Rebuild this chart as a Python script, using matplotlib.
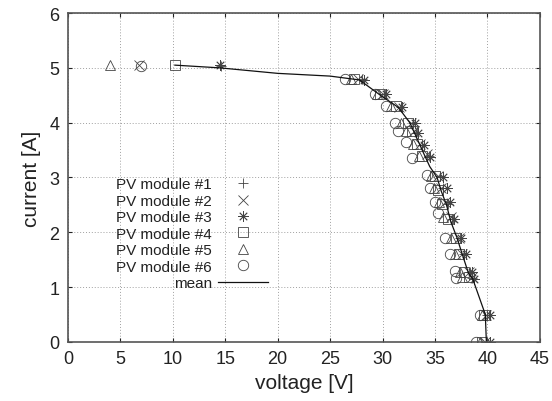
import numpy as np
import matplotlib.pyplot as plt

plt.rcParams['font.family'] = ['Liberation Sans', 'DejaVu Sans']

# ---------------------------------------------------------------
# I-V measurements read off the chart (voltage [V], current [A])
# ---------------------------------------------------------------
v1 = [14.6, 28.0, 30.1, 31.8, 32.9, 33.2, 33.8, 34.4, 35.5, 35.8, 36.2, 36.6, 37.4, 37.8, 38.3, 38.5, 40.0, 39.9]
i1 = [5.04, 4.79, 4.52, 4.28, 4.00, 3.82, 3.60, 3.40, 3.02, 2.80, 2.52, 2.25, 1.90, 1.60, 1.27, 1.16, 0.50, 0.00]

v2 = [6.8, 27.7, 30.0, 31.6, 32.7, 33.0, 33.6, 34.2, 35.3, 35.6, 36.0, 36.5, 37.3, 37.6, 38.2, 38.5, 39.9, 39.8]
i2 = [5.05, 4.80, 4.52, 4.28, 4.00, 3.85, 3.62, 3.42, 3.02, 2.80, 2.55, 2.28, 1.90, 1.60, 1.28, 1.18, 0.50, 0.00]

v3 = [14.5, 28.2, 30.3, 31.9, 33.1, 33.4, 34.0, 34.5, 35.8, 36.1, 36.4, 36.8, 37.5, 38.0, 38.5, 38.7, 40.2, 40.2]
i3 = [5.05, 4.78, 4.52, 4.28, 4.00, 3.82, 3.60, 3.38, 3.00, 2.80, 2.55, 2.25, 1.90, 1.60, 1.28, 1.15, 0.50, 0.00]

v4 = [10.2, 27.3, 29.8, 31.3, 32.4, 32.8, 33.3, 33.8, 35.0, 35.3, 35.7, 36.2, 37.0, 37.3, 37.8, 38.2, 39.7, 39.5]
i4 = [5.05, 4.80, 4.52, 4.30, 4.00, 3.85, 3.62, 3.40, 3.02, 2.78, 2.52, 2.25, 1.90, 1.60, 1.28, 1.18, 0.50, 0.00]

v5 = [4.0, 27.0, 29.5, 30.8, 31.8, 32.2, 32.9, 33.5, 34.6, 34.9, 35.4, 35.8, 36.5, 36.9, 37.4, 37.6, 39.5, 39.3]
i5 = [5.05, 4.80, 4.52, 4.30, 4.00, 3.85, 3.62, 3.40, 3.02, 2.80, 2.55, 2.28, 1.90, 1.60, 1.28, 1.18, 0.50, 0.00]

v6 = [7.0, 26.4, 29.3, 30.3, 31.2, 31.5, 32.2, 32.8, 34.2, 34.5, 35.0, 35.3, 36.0, 36.4, 36.9, 37.0, 39.3, 38.9]
i6 = [5.04, 4.80, 4.52, 4.30, 4.00, 3.85, 3.65, 3.35, 3.05, 2.80, 2.55, 2.35, 1.90, 1.60, 1.30, 1.17, 0.50, 0.00]

v_mean = [10.2, 14.5, 20.0, 25.0, 27.8, 29.8, 31.5, 32.6, 33.2, 33.9, 34.5, 35.2, 35.6, 36.1, 36.5, 37.1, 37.6, 38.2, 38.6, 39.8, 39.9]
i_mean = [5.05, 5.00, 4.90, 4.85, 4.78, 4.50, 4.28, 4.00, 3.75, 3.45, 3.20, 3.00, 2.75, 2.50, 2.20, 1.90, 1.60, 1.25, 1.15, 0.50, 0.00]

labels = ['PV module #1', 'PV module #2', 'PV module #3',
          'PV module #4', 'PV module #5', 'PV module #6']
markers = ['+', 'x', (8, 2, 0), 's', '^', 'o']
series = [(v1, i1), (v2, i2), (v3, i3), (v4, i4), (v5, i5), (v6, i6)]

fig = plt.figure(figsize=(5.52, 4.02), dpi=100)
ax = fig.add_axes([0.123, 0.147, 0.855, 0.818])

mcol = '#444444'
for (v, i), lab, mk in zip(series, labels, markers):
    ax.plot(v, i, ls='none', marker=mk, markersize=7.5, mfc='none',
            mec=mcol, mew=0.6, label=lab)
ax.plot(v_mean, i_mean, '-', color='#111111', lw=0.9, label='mean')

ax.set_xlim(0, 45)
ax.set_ylim(0, 6)
ax.set_xticks(np.arange(0, 46, 5))
ax.set_yticks(np.arange(0, 7, 1))
ax.tick_params(direction='in', length=3, labelsize=13, colors='#222222',
               top=True, right=True, pad=6)
ax.grid(True, color='#a0a0a0', lw=0.7, dashes=(1, 2))
for s in ax.spines.values():
    s.set_color('#555555')
    s.set_linewidth(1.2)

ax.set_xlabel('voltage [V]', fontsize=15, color='#222222', labelpad=4)
ax.set_ylabel('current [A]', fontsize=15, color='#222222', labelpad=6)

leg = ax.legend(loc='upper right', bbox_to_anchor=(0.425, 0.50),
                markerfirst=False, frameon=False, fontsize=11,
                handlelength=3.3, handletextpad=0.4, labelspacing=0.16,
                borderpad=0, borderaxespad=0)
for t in leg.get_texts():
    t.set_color('#222222')

fig.savefig('out.png', dpi=100)
